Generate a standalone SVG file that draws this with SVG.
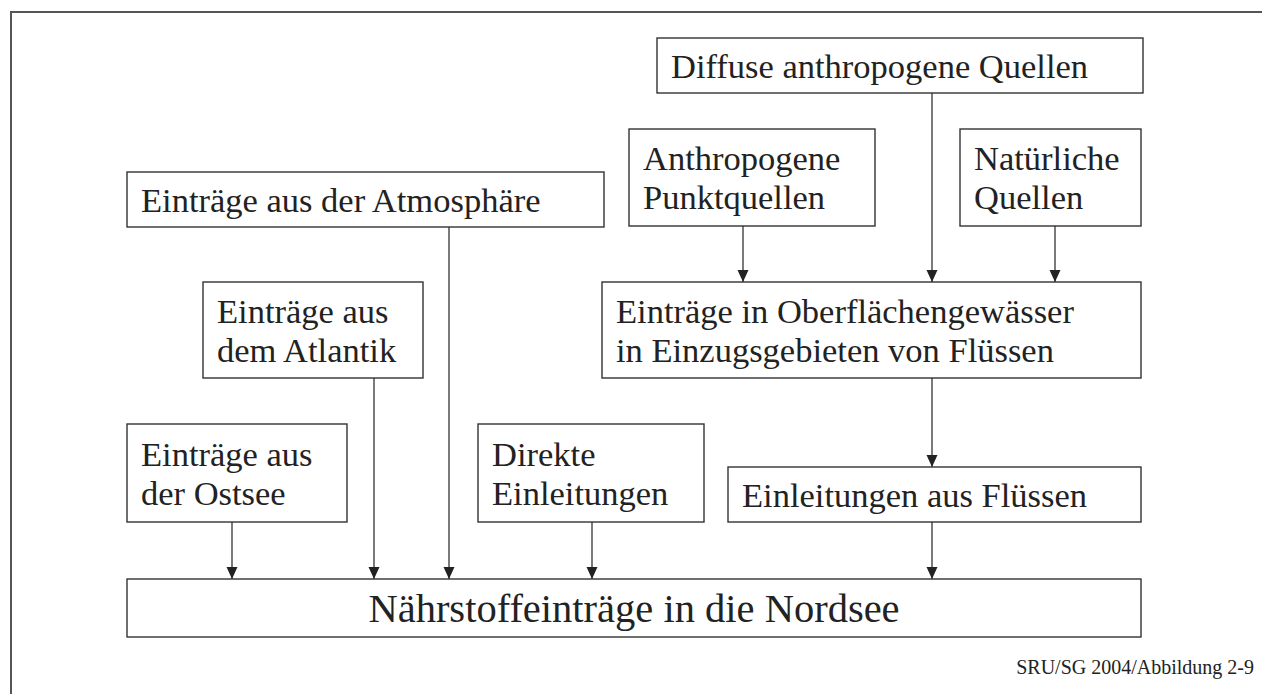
<svg xmlns="http://www.w3.org/2000/svg" width="1262" height="694" viewBox="0 0 1262 694">
<defs>
<style>
.box{fill:#fff;stroke:#333;stroke-width:1.4}
.t{font-family:"Liberation Serif","Times New Roman",serif;font-size:34.5px;fill:#222}
.big{font-family:"Liberation Serif","Times New Roman",serif;font-size:40.5px;fill:#222}
.foot{font-family:"Liberation Serif","Times New Roman",serif;font-size:20px;fill:#222}
.c{fill:none;stroke:#333;stroke-width:1.3}
</style>
<marker id="ah" markerUnits="userSpaceOnUse" markerWidth="12" markerHeight="12" refX="12" refY="5.5" orient="auto">
<path d="M0,0 L12,5.5 L0,11 z" fill="#222"/>
</marker>
</defs>
<rect width="1262" height="694" fill="#fff"/>
<path d="M11,700 V12 H1270" fill="none" stroke="#555" stroke-width="2"/>

<g id="connectors">
<line class="c" x1="743" y1="226" x2="743" y2="282" marker-end="url(#ah)"/>
<line class="c" x1="932" y1="93" x2="932" y2="282" marker-end="url(#ah)"/>
<line class="c" x1="1055" y1="226" x2="1055" y2="282" marker-end="url(#ah)"/>
<line class="c" x1="932" y1="378" x2="932" y2="467" marker-end="url(#ah)"/>
<line class="c" x1="232" y1="522" x2="232" y2="579" marker-end="url(#ah)"/>
<line class="c" x1="374" y1="378" x2="374" y2="579" marker-end="url(#ah)"/>
<line class="c" x1="449" y1="227" x2="449" y2="579" marker-end="url(#ah)"/>
<line class="c" x1="592" y1="522" x2="592" y2="579" marker-end="url(#ah)"/>
<line class="c" x1="932" y1="522" x2="932" y2="579" marker-end="url(#ah)"/>
</g>

<g id="diffuse">
<rect class="box" x="657" y="38" width="486" height="55"/>
<text class="t" x="671" y="78">Diffuse anthropogene Quellen</text>
</g>
<g id="punktquellen">
<rect class="box" x="629" y="129" width="246" height="97"/>
<text class="t" x="643" y="170">Anthropogene</text>
<text class="t" x="643" y="209">Punktquellen</text>
</g>
<g id="natuerlich">
<rect class="box" x="960" y="129" width="181" height="97"/>
<text class="t" x="974" y="170">Natürliche</text>
<text class="t" x="974" y="209">Quellen</text>
</g>
<g id="atmosphaere">
<rect class="box" x="127" y="172" width="477" height="55"/>
<text class="t" x="141" y="212">Einträge aus der Atmosphäre</text>
</g>
<g id="oberflaeche">
<rect class="box" x="602" y="282" width="539" height="96"/>
<text class="t" x="616" y="323">Einträge in Oberflächengewässer</text>
<text class="t" x="616" y="362">in Einzugsgebieten von Flüssen</text>
</g>
<g id="atlantik">
<rect class="box" x="203" y="282" width="220" height="96"/>
<text class="t" x="217" y="323">Einträge aus</text>
<text class="t" x="217" y="362">dem Atlantik</text>
</g>
<g id="ostsee">
<rect class="box" x="127" y="424" width="220" height="98"/>
<text class="t" x="141" y="466">Einträge aus</text>
<text class="t" x="141" y="505">der Ostsee</text>
</g>
<g id="direkt">
<rect class="box" x="478" y="424" width="226" height="98"/>
<text class="t" x="492" y="466">Direkte</text>
<text class="t" x="492" y="505">Einleitungen</text>
</g>
<g id="fluesse">
<rect class="box" x="728" y="467" width="413" height="55"/>
<text class="t" x="742" y="507">Einleitungen aus Flüssen</text>
</g>
<g id="nordsee">
<rect class="box" x="127" y="579" width="1014" height="58"/>
<text class="big" x="634" y="622" text-anchor="middle">Nährstoffeinträge in die Nordsee</text>
</g>
<text class="foot" x="1254" y="674" text-anchor="end">SRU/SG 2004/Abbildung 2-9</text>
</svg>
